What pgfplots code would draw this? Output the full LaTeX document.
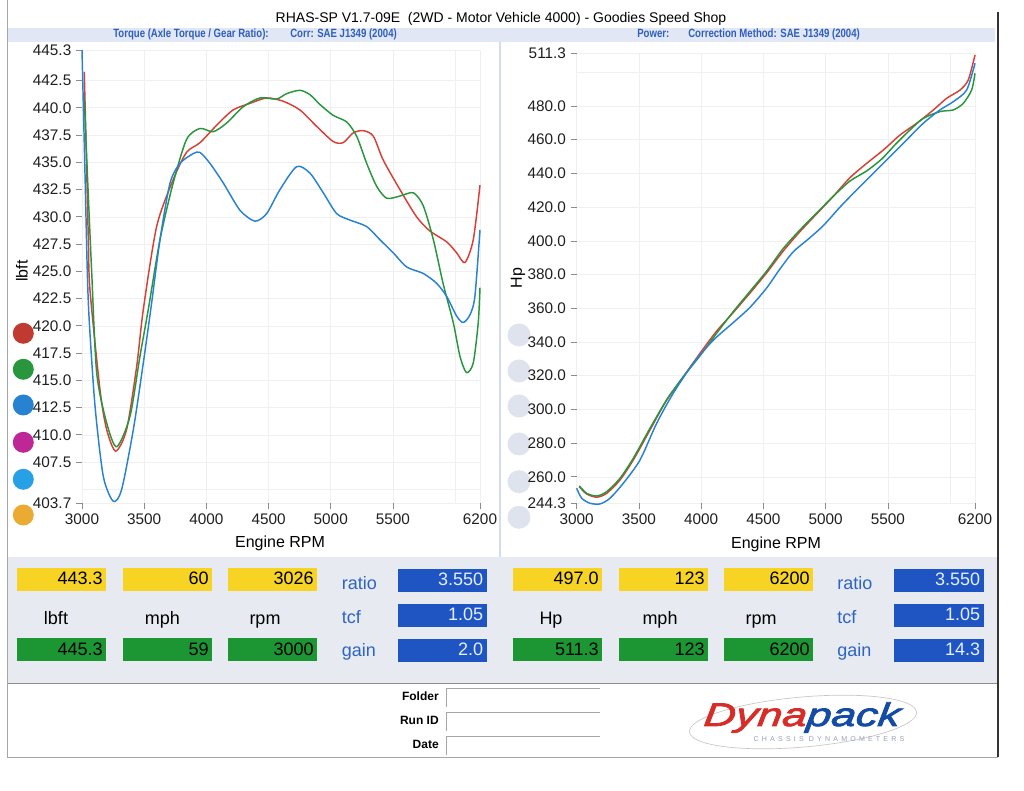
\documentclass[border=0pt]{standalone}
\usepackage{fontspec}
\setmainfont{Liberation Sans}
\newfontfamily\condfont{Liberation Sans}[FakeStretch=0.8]
\newfontfamily\logofont{Liberation Sans}[FakeStretch=1.35, FakeBold=2.5, FakeSlant=0.12]
\newfontfamily\spacedfont{Liberation Sans}[LetterSpace=45]
\usepackage{pgfplots}
\pgfplotsset{compat=1.18}
\definecolor{cred}{RGB}{214,64,54}
\definecolor{cgreen}{RGB}{40,150,60}
\definecolor{cblue}{RGB}{40,130,210}
\definecolor{dmag}{RGB}{190,40,150}
\definecolor{dlblue}{RGB}{40,160,230}
\definecolor{dorange}{RGB}{235,170,50}
\definecolor{subblue}{RGB}{45,95,190}
\definecolor{lblblue}{RGB}{45,100,195}
\definecolor{byellow}{RGB}{247,212,35}
\definecolor{bgreen}{RGB}{28,150,50}
\definecolor{bblue}{RGB}{30,85,195}
\definecolor{btext}{RGB}{230,238,255}
\definecolor{panel}{RGB}{231,235,241}
\definecolor{band}{RGB}{226,231,246}
\definecolor{divider}{RGB}{214,220,240}
\definecolor{dotgray}{RGB}{223,227,238}
\definecolor{logored}{RGB}{215,45,40}
\definecolor{logoblue}{RGB}{20,75,165}
\definecolor{logogray}{RGB}{150,160,185}

\pgfplotsset{
 dyno/.style={
  scale only axis, anchor=south west,
  axis line style={draw=none},
  xmin=3000, xmax=6200,
  xtick={3000,3500,4000,4500,5000,5500,6200},
  xticklabels={3000,3500,4000,4500,5000,5500,6200},
  extra x ticks={6000}, extra x tick labels={},
  extra tick style={major tick length=0pt, grid=major},
  grid=major, grid style={line width=0.4pt, draw=black!6},
  tick style={draw=black!45, line width=0.5pt}, tick align=outside,
  tick pos=left,
  major tick length=4.5pt,
  ticklabel style={font=\fontsize{11.5}{12}\selectfont, text=black!88},
  /pgf/number format/assume math mode=true,
  clip=false,
  every axis plot/.append style={line width=1.1pt, line join=round, smooth, tension=0.45, no markers}
 }
}

\newcommand\dbox[6]{%
 \fill[#1] (#2,#3) rectangle ++(#4,23);
 \node[anchor=base east, inner sep=0, text=#6] at ({#2+#4-3},{#3+17}) {\fontsize{13.5}{14}\selectfont #5};}

\begin{document}
\begin{tikzpicture}
\fill[white] (0,0) rectangle (768pt,593.25pt);
\path[use as bounding box] (0,0) rectangle (768pt,593.25pt);
\begin{scope}[x=0.75pt, y=-0.75pt, yshift=593.25pt]
 % frame and bands
 \fill[band] (7,28) rectangle (995,42);
 \fill[panel] (7,557) rectangle (998,683);
 \draw[black!45, line width=0.6pt] (7,683) -- (998,683);
 \draw[black!35, line width=0.6pt] (7,0) -- (7,757) -- (998,757);
 \draw[black!80, line width=1.2pt] (998,12) -- (998,757);
 \draw[divider, line width=1.5pt] (500,42) -- (500,557);
 % title
 \node[anchor=base, inner sep=0] at (501,23) {\fontsize{10.5}{12}\selectfont RHAS-SP V1.7-09E\ \ (2WD - Motor Vehicle 4000) - Goodies Speed Shop};
 \node[anchor=base west, inner sep=0, text=subblue] at (113,38) {\condfont\bfseries\fontsize{9}{10}\selectfont Torque (Axle Torque / Gear Ratio):};
 \node[anchor=base west, inner sep=0, text=subblue] at (290,38) {\condfont\bfseries\fontsize{9}{10}\selectfont Corr: SAE J1349 (2004)};
 \node[anchor=base west, inner sep=0, text=subblue] at (637,38) {\condfont\bfseries\fontsize{9}{10}\selectfont Power:};
 \node[anchor=base west, inner sep=0, text=subblue] at (688,38) {\condfont\bfseries\fontsize{9}{10}\selectfont Correction Method: SAE J1349 (2004)};
 % legend dots
 \fill[cred!90!black] (23.3,333.3) circle (10.5);
 \fill[cgreen] (23.3,369.3) circle (10.5);
 \fill[cblue] (23.3,405) circle (10.5);
 \fill[dmag] (23.3,442.3) circle (10.5);
 \fill[dlblue] (23.3,479.3) circle (10.5);
 \fill[dorange] (23.3,515) circle (10.5);
 \foreach \yy in {335,371,406,444,481.7,517.3} {\fill[dotgray] (519,\yy) circle (11.5);}
 % axis labels
 \node[rotate=90, inner sep=0] at (22,271) {\fontsize{12}{13}\selectfont lbft};
 \node[rotate=90, inner sep=0] at (518,278) {\fontsize{12}{13}\selectfont Hp};
 \node[anchor=base, inner sep=0] at (280,547.5) {\fontsize{12}{13}\selectfont Engine RPM};
 \node[anchor=base, inner sep=0] at (776,549) {\fontsize{12}{13}\selectfont Engine RPM};
 % value panel left
 \dbox{byellow}{17}{568}{89}{443.3}{black}
 \dbox{byellow}{123}{568}{89}{60}{black}
 \dbox{byellow}{228}{568}{89}{3026}{black}
 \dbox{bgreen}{17}{638.5}{89}{445.3}{black}
 \dbox{bgreen}{123}{638.5}{89}{59}{black}
 \dbox{bgreen}{228}{638.5}{89}{3000}{black}
 \dbox{bblue}{397.5}{569}{89}{3.550}{btext}
 \dbox{bblue}{397.5}{604}{89}{1.05}{btext}
 \dbox{bblue}{397.5}{639}{89}{2.0}{btext}
 \node[anchor=base west, inner sep=0, text=lblblue] at (341.5,590) {\fontsize{13.5}{14}\selectfont ratio};
 \node[anchor=base west, inner sep=0, text=lblblue] at (341.5,624) {\fontsize{13.5}{14}\selectfont tcf};
 \node[anchor=base west, inner sep=0, text=lblblue] at (341.5,657) {\fontsize{13.5}{14}\selectfont gain};
 \node[anchor=base, inner sep=0] at (56,625) {\fontsize{13.5}{14}\selectfont lbft};
 \node[anchor=base, inner sep=0] at (162.5,625) {\fontsize{13.5}{14}\selectfont mph};
 \node[anchor=base, inner sep=0] at (265,625) {\fontsize{13.5}{14}\selectfont rpm};
 % value panel right
 \dbox{byellow}{513}{568}{89}{497.0}{black}
 \dbox{byellow}{619}{568}{89}{123}{black}
 \dbox{byellow}{724}{568}{89}{6200}{black}
 \dbox{bgreen}{513}{638.5}{89}{511.3}{black}
 \dbox{bgreen}{619}{638.5}{89}{123}{black}
 \dbox{bgreen}{724}{638.5}{89}{6200}{black}
 \dbox{bblue}{894}{569}{89.5}{3.550}{btext}
 \dbox{bblue}{894}{604}{89.5}{1.05}{btext}
 \dbox{bblue}{894}{639}{89.5}{14.3}{btext}
 \node[anchor=base west, inner sep=0, text=lblblue] at (837,590) {\fontsize{13.5}{14}\selectfont ratio};
 \node[anchor=base west, inner sep=0, text=lblblue] at (837,624) {\fontsize{13.5}{14}\selectfont tcf};
 \node[anchor=base west, inner sep=0, text=lblblue] at (837,657) {\fontsize{13.5}{14}\selectfont gain};
 \node[anchor=base, inner sep=0] at (551,625) {\fontsize{13.5}{14}\selectfont Hp};
 \node[anchor=base, inner sep=0] at (660,625) {\fontsize{13.5}{14}\selectfont mph};
 \node[anchor=base, inner sep=0] at (761,625) {\fontsize{13.5}{14}\selectfont rpm};
 % folder fields
 \foreach \yy/\lab in {688/Folder,712/Run ID,736/Date} {
  \node[anchor=base east, inner sep=0] at (439,\yy+13) {\bfseries\fontsize{9}{10}\selectfont \lab};
  \draw[black!35, line width=0.6pt] (446,\yy+19) -- (446,\yy) -- (600,\yy);
 }
 % logo
 \draw[black!22, line width=0.5pt, rotate around={5:(803,722)}] (803,722) ellipse [x radius=114, y radius=25];
 \node[anchor=base, inner sep=0] at (801,726) {\logofont\itshape\fontsize{24.5}{26}\selectfont\textcolor{logored}{Dyna}\textcolor{logoblue}{pack}};
 \node[anchor=base, inner sep=0, text=logogray] at (829,742) {\spacedfont\fontsize{5.3}{6}\selectfont CHASSIS DYNAMOMETERS};
\end{scope}

% ---------- torque axis ----------
\begin{axis}[dyno, at={(61.5pt,215.625pt)}, width=298.5pt, height=340.125pt,
  ymin=403.7, ymax=445.3,
  ytick={403.7,407.5,410,412.5,415,417.5,420,422.5,425,427.5,430,432.5,435,437.5,440,442.5,445.3},
  yticklabels={403.7,407.5,410.0,412.5,415.0,417.5,420.0,422.5,425.0,427.5,430.0,432.5,435.0,437.5,440.0,442.5,445.3},
  extra y ticks={405}, extra y tick labels={}]
\addplot[cred] coordinates {
(3018,443.3)(3032,437.1)(3051,427.9)(3064,423.3)(3145,414.1)(3198,410.5)(3271,408.5)(3359,410.5)(3440,416.3)(3493,421.5)(3600,429.1)(3733,433.4)(3840,435.9)(3949,436.8)(4083,438.4)(4215,439.8)(4350,440.4)(4485,440.9)(4617,440.6)(4752,439.8)(4886,438.3)(5020,436.9)(5100,436.8)(5181,437.7)(5261,437.9)(5342,437.4)(5422,435.2)(5556,432.5)(5690,430.0)(5797,428.7)(5932,427.7)(6012,426.7)(6079,425.8)(6146,427.9)(6200,432.9)};
\addplot[cgreen] coordinates {
(3018,440.9)(3043,434.0)(3078,424.9)(3118,415.7)(3198,411.1)(3279,408.9)(3386,411.7)(3466,417.2)(3533,421.5)(3627,427.9)(3733,433.1)(3841,437.1)(3949,438.1)(4055,437.8)(4163,438.6)(4297,440.1)(4431,440.9)(4565,440.8)(4646,441.3)(4752,441.6)(4833,441.2)(4913,440.3)(5020,439.3)(5128,438.7)(5208,437.4)(5289,434.9)(5369,432.8)(5450,431.7)(5556,431.9)(5664,432.2)(5744,431.0)(5825,427.9)(5905,423.8)(5985,420.3)(6039,417.2)(6092,415.7)(6146,416.6)(6186,420.3)(6200,423.5)};
\addplot[cblue] coordinates {
(3000,445.3)(3024,434.0)(3043,424.8)(3059,420.3)(3105,412.6)(3171,406.2)(3252,403.9)(3319,405.0)(3413,410.5)(3493,416.6)(3560,422.1)(3627,427.9)(3708,433.1)(3788,434.9)(3895,435.8)(3949,435.9)(4029,434.9)(4136,433.1)(4270,430.6)(4391,429.6)(4485,430.3)(4592,432.5)(4726,434.6)(4833,434.0)(4940,432.2)(5047,430.3)(5154,429.7)(5289,429.1)(5395,427.9)(5502,426.7)(5610,425.4)(5744,424.8)(5851,423.9)(5932,422.7)(6012,420.9)(6065,420.3)(6119,421.0)(6159,422.7)(6200,428.8)};
\end{axis}

% ---------- power axis ----------
\begin{axis}[dyno, at={(432.5pt,215.8pt)}, width=298.75pt, height=337.5pt,
  ymin=244.3, ymax=511.3,
  ytick={244.3,260,280,300,320,340,360,380,400,420,440,460,480,511.3},
  yticklabels={244.3,260.0,280.0,300.0,320.0,340.0,360.0,380.0,400.0,420.0,440.0,460.0,480.0,511.3},
  extra y ticks={500}, extra y tick labels={}]
\addplot[cred] coordinates {
(3021,254.1)(3080,249.8)(3161,247.9)(3241,250.2)(3348,258.1)(3455,270.0)(3589,287.8)(3723,305.6)(3857,319.4)(3991,333.3)(4125,346.5)(4258,357.5)(4392,369.0)(4526,381.0)(4660,394.0)(4794,405.5)(4928,416.0)(5062,426.5)(5196,437.5)(5330,446.0)(5464,453.9)(5598,462.8)(5732,469.8)(5866,477.7)(5973,484.6)(6080,489.5)(6146,495.5)(6200,510.3)};
\addplot[cgreen] coordinates {
(3021,254.6)(3080,250.2)(3161,248.6)(3241,251.2)(3348,259.1)(3455,271.0)(3589,288.8)(3723,305.6)(3857,319.4)(3991,331.8)(4125,345.2)(4258,358.0)(4392,370.0)(4526,382.0)(4660,395.5)(4794,406.5)(4928,416.5)(5062,426.5)(5196,435.5)(5330,441.5)(5450,448.5)(5564,457.5)(5678,465.8)(5785,472.7)(5919,476.7)(6026,477.7)(6106,481.6)(6173,489.5)(6200,499.4)};
\addplot[cblue] coordinates {
(3000,253.2)(3040,247.3)(3107,244.3)(3187,243.9)(3268,247.3)(3375,256.2)(3509,270.0)(3643,291.8)(3776,309.6)(3937,327.4)(4097,341.0)(4258,351.5)(4392,360.5)(4526,372.0)(4630,383.0)(4740,393.5)(4860,401.0)(4981,409.0)(5115,420.0)(5249,430.2)(5383,440.1)(5517,450.0)(5651,459.9)(5785,469.8)(5919,477.7)(6026,482.6)(6133,489.5)(6200,505.4)};
\end{axis}
\end{tikzpicture}
\end{document}
